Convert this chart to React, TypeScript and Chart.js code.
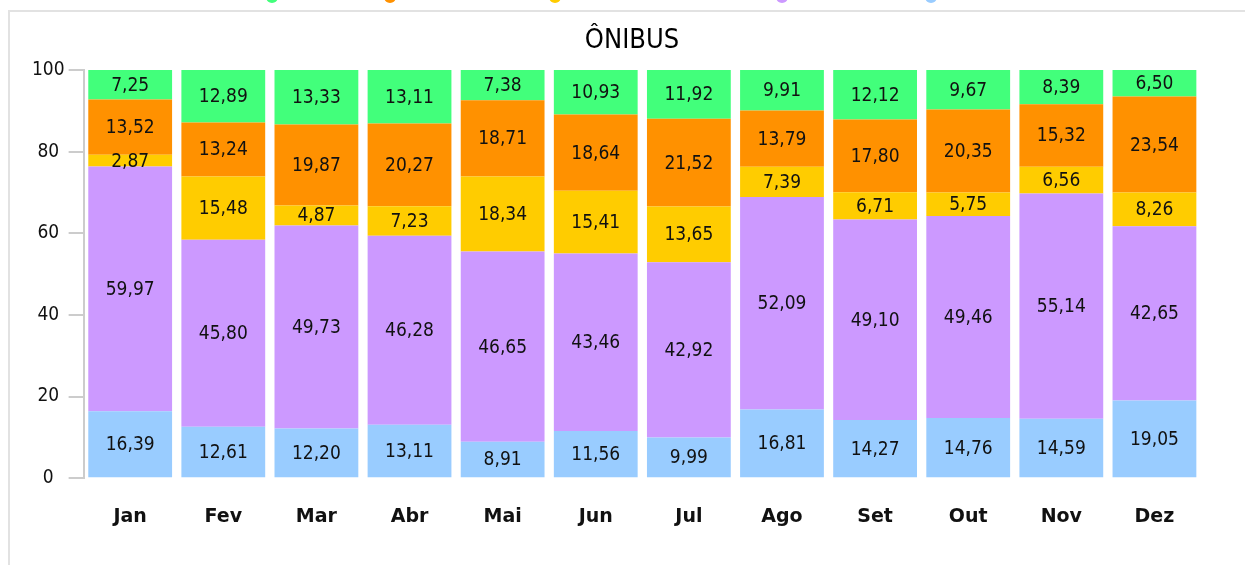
import React, { useEffect, useLayoutEffect, useRef } from "react";
import { Chart, registerables } from "chart.js";

Chart.register(...registerables);

const months = ["Jan", "Fev", "Mar", "Abr", "Mai", "Jun", "Jul", "Ago", "Set", "Out", "Nov", "Dez"];
const yTicks = [0, 20, 40, 60, 80, 100];
const chartTitle = "ÔNIBUS";

const serieAzul = [16.39, 12.61, 12.2, 13.11, 8.91, 11.56, 9.99, 16.81, 14.27, 14.76, 14.59, 19.05];
const serieRoxa = [59.97, 45.8, 49.73, 46.28, 46.65, 43.46, 42.92, 52.09, 49.1, 49.46, 55.14, 42.65];
const serieAmarela = [2.87, 15.48, 4.87, 7.23, 18.34, 15.41, 13.65, 7.39, 6.71, 5.75, 6.56, 8.26];
const serieLaranja = [13.52, 13.24, 19.87, 20.27, 18.71, 18.64, 21.52, 13.79, 17.8, 20.35, 15.32, 23.54];
const serieVerde = [7.25, 12.89, 13.33, 13.11, 7.38, 10.93, 11.92, 9.91, 12.12, 9.67, 8.39, 6.5];

const seriesNames = ["Série 1", "Série 2", "Série 3", "Série 4", "Série 5"];
const seriesColors = ["#99ccff", "#cc99ff", "#ffcc00", "#ff9100", "#42ff7b"];

const legendDots = [
  { color: "#42ff7b", x: 272 },
  { color: "#ff9100", x: 390 },
  { color: "#ffcc00", x: 555 },
  { color: "#cc99ff", x: 782 },
  { color: "#99ccff", x: 931 },
];

const FONT = "'DejaVu Sans Condensed', 'DejaVu Sans', sans-serif";

const valueLabels = {
  id: "valueLabels",
  afterDatasetsDraw(chart: any) {
    const ctx = chart.ctx;
    ctx.save();
    ctx.font = `19px ${FONT}`;
    ctx.fillStyle = "#111";
    ctx.textAlign = "center";
    ctx.textBaseline = "middle";
    chart.data.datasets.forEach((ds: any, di: number) => {
      const meta = chart.getDatasetMeta(di);
      meta.data.forEach((el: any, i: number) => {
        const p = el.getProps(["x", "y", "base"], true);
        const v = ds.data[i] as number;
        ctx.fillText(v.toFixed(2).replace(".", ","), p.x, (p.y + p.base) / 2 + 1);
      });
    });
    ctx.restore();
  },
};

const titleDraw = {
  id: "titleDraw",
  afterDraw(chart: any) {
    const ctx = chart.ctx;
    ctx.save();
    ctx.font = `27px ${FONT}`;
    ctx.fillStyle = "#000";
    ctx.textAlign = "center";
    ctx.textBaseline = "alphabetic";
    ctx.fillText(chartTitle, 622, 36);
    ctx.restore();
  },
};

export default function App() {
  const ref = useRef<HTMLCanvasElement>(null);

  useLayoutEffect(() => {
    document.body.style.margin = "0";
  }, []);

  useEffect(() => {
    if (!ref.current) return;
    const data = [serieAzul, serieRoxa, serieAmarela, serieLaranja, serieVerde];
    const chart = new Chart(ref.current, {
      type: "bar",
      data: {
        labels: months,
        datasets: data.map((d, i) => ({
          label: seriesNames[i],
          data: d,
          backgroundColor: seriesColors[i],
          borderWidth: 0,
          barPercentage: 0.9,
          categoryPercentage: 1,
        })),
      },
      plugins: [valueLabels, titleDraw],
      options: {
        animation: false,
        responsive: false,
        maintainAspectRatio: false,
        layout: { padding: { left: 18, right: 44, top: 58, bottom: 10 } },
        plugins: {
          legend: { display: false },
          tooltip: { enabled: false },
          title: { display: false },
        },
        scales: {
          x: {
            stacked: true,
            grid: { display: false, drawTicks: false },
            border: { display: false },
            ticks: {
              color: "#111",
              padding: 27,
              font: { family: "'DejaVu Sans', sans-serif", size: 19, weight: "bold" },
            },
          },
          y: {
            stacked: true,
            min: 0,
            max: 100,
            afterBuildTicks: (scale: any) => {
              scale.ticks = yTicks.map((v) => ({ value: v }));
            },
            grid: {
              drawOnChartArea: false,
              drawTicks: true,
              tickLength: 15,
              color: "#cccccc",
              lineWidth: 2,
            },
            border: { display: true, color: "#cccccc", width: 2 },
            ticks: {
              color: "#111",
              padding: 4,
              crossAlign: "center",
              font: { family: FONT, size: 19 },
            },
          },
        },
      },
    });
    return () => chart.destroy();
  }, []);

  return (
    <div style={{ position: "relative", width: 1245, height: 565, overflow: "hidden" }}>
      {legendDots.map((d, i) => (
        <div
          key={i}
          style={{
            position: "absolute",
            left: d.x - 6,
            top: 0,
            width: 12,
            height: 3,
            overflow: "hidden",
          }}
        >
          <div
            style={{
              position: "absolute",
              left: 0,
              top: -9,
              width: 12,
              height: 12,
              borderRadius: 6,
              backgroundColor: d.color,
            }}
          />
        </div>
      ))}
      <div
        style={{
          position: "absolute",
          left: 8,
          top: 10,
          width: 1237,
          height: 555,
          borderTop: "2px solid #e2e2e2",
          borderLeft: "2px solid #e2e2e2",
          boxSizing: "border-box",
          overflow: "hidden",
        }}
      >
        <canvas ref={ref} width={1235} height={553} style={{ display: "block" }} />
      </div>
    </div>
  );
}
